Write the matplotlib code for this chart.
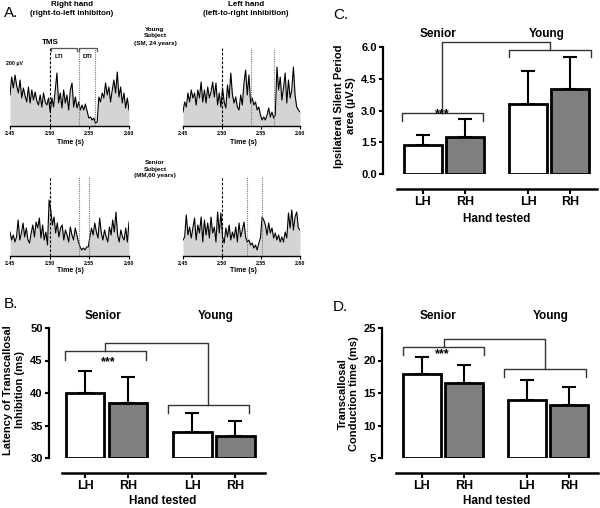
import matplotlib
matplotlib.use('Agg')
import matplotlib.pyplot as plt
import numpy as np

plt.rcParams['font.family'] = ['Liberation Sans', 'DejaVu Sans']
plt.rcParams['font.weight'] = 'bold'

W, H = 600, 508

# ---- panel A: rectified EMG traces (heights) ----
t_start, t_end = 2.45, 2.60
tms_time = 2.50

young_rh = [31, 49, 38, 51, 40, 33, 46, 28, 38, 30, 24, 39, 23, 36, 26, 34, 25, 21,
            31, 19, 33, 24, 21, 28, 14, 28, 19, 36, 53, 23, 33, 18, 36, 23, 31, 16,
            36, 43, 19, 29, 18, 24, 16, 21, 16, 22, 15, 8, 9, 6, 8, 3, 4, 29,
            24, 33, 28, 43, 31, 39, 24, 36, 46, 33, 54, 29, 39, 23, 33, 18, 28, 16]
young_lh = [14, 24, 19, 33, 24, 36, 28, 33, 21, 36, 28, 44, 24, 36, 23, 39, 28, 34,
            44, 29, 43, 21, 33, 19, 38, 24, 18, 41, 28, 53, 31, 23, 29, 19, 16, 31,
            21, 43, 56, 31, 51, 23, 28, 21, 24, 16, 19, 11, 6, 9, 6, 11, 18, 9,
            14, 8, 11, 59, 36, 49, 26, 38, 53, 23, 46, 28, 36, 59, 31, 19, 16, 14]
senior_rh = [24, 16, 21, 14, 19, 36, 16, 23, 33, 19, 28, 16, 13, 23, 31, 19, 34, 28,
             38, 18, 31, 16, 24, 11, 56, 46, 31, 39, 23, 33, 19, 28, 31, 16, 26, 21,
             14, 29, 21, 16, 28, 21, 14, 9, 6, 8, 6, 9, 9, 19, 28, 21, 33, 24,
             18, 38, 23, 16, 26, 19, 14, 29, 21, 36, 24, 44, 21, 14, 26, 19, 16, 28, 14, 34]
senior_lh = [16, 19, 41, 21, 29, 18, 28, 38, 16, 31, 23, 39, 14, 36, 21, 33, 18, 39,
             23, 29, 14, 44, 23, 43, 19, 13, 28, 19, 31, 16, 24, 18, 29, 14, 33, 19,
             26, 34, 19, 14, 16, 11, 13, 8, 11, 6, 13, 18, 39, 36, 31, 21, 33, 23,
             28, 18, 23, 16, 21, 14, 19, 14, 24, 18, 43, 28, 46, 26, 39, 44, 28, 26]

# DTI onset / offset (s)
young_rh_dti = [2.537, 2.557]
young_lh_dti = [2.537, 2.567]
senior_rh_dti = [2.537, 2.550]
senior_lh_dti = [2.532, 2.551]

# ---- panels B-D: group means and SD ----
hands = ['LH', 'RH', 'LH', 'RH']
groups = ['Senior', 'Young']
latency_mean = [40.0, 38.5, 34.0, 33.4]
latency_sd = [3.4, 3.9, 2.9, 2.3]
isp_mean = [1.38, 1.74, 3.30, 4.03]
isp_sd = [0.44, 0.86, 1.58, 1.52]
tct_mean = [18.0, 16.6, 14.0, 13.1]
tct_sd = [2.5, 2.7, 3.0, 2.9]

bar_pos = [0, 1, 2.5, 3.5]
bar_colors = ['white', '#7f7f7f', 'white', '#7f7f7f']


def box(x0, y0, x1, y1):
    return [x0 / W, 1 - y1 / H, (x1 - x0) / W, (y1 - y0) / H]


def ftext(x, y, s, size, **kw):
    kw.setdefault('ha', 'center')
    kw.setdefault('va', 'center')
    fig.text(x / W, 1 - y / H, s, fontsize=size, **kw)


fig = plt.figure(figsize=(6, 5.08), dpi=100)


def trace_panel(rect, vals, dti, top):
    ax = fig.add_axes(box(*rect))
    t = np.linspace(t_start, t_end, len(vals))
    ax.fill_between(t, 0, vals, color='#d4d4d4', lw=0)
    ax.plot(t, vals, color='black', lw=0.8)
    ax.vlines(tms_time, 0, top, colors='black', linestyles=(0, (2.5, 1.5)), lw=0.8)
    ax.vlines(dti, 0, top, colors='#777777', linestyles=(0, (1, 1)), lw=0.8)
    ax.set_xlim(t_start, t_end)
    ax.set_ylim(0, top)
    for s in ['top', 'right', 'left']:
        ax.spines[s].set_visible(False)
    ax.spines['bottom'].set_linewidth(1.0)
    ax.set_yticks([])
    ax.set_xticks([2.45, 2.50, 2.55, 2.60], ['2.45', '2.50', '2.55', '2.60'])
    ax.tick_params(axis='x', length=2, width=0.8, labelsize=3.8, pad=1.5)
    return ax


ax1 = trace_panel((10, 48, 129, 126), young_rh, young_rh_dti, 78)
trace_panel((183, 48, 300, 126), young_lh, young_lh_dti, 78)
trace_panel((10, 177, 129, 256), senior_rh, senior_rh_dti, 79)
trace_panel((183, 177, 300, 256), senior_lh, senior_lh_dti, 79)

# LTI / DTI brackets on the first trace
for x0, x1 in [(2.5017, 2.5350), (2.5370, 2.5597)]:
    ax1.plot([x0, x0, x1, x1], [75, 78.5, 78.5, 75], color='#555555', lw=0.9, clip_on=False)

ftext(4, 13, 'A.', 11, ha='left', fontweight='normal')
ftext(72, 5, 'Right hand', 5.8)
ftext(72, 13.5, '(right-to-left inhibiton)', 5.7)
ftext(246, 5, 'Left hand', 5.8)
ftext(246, 13.5, '(left-to-right inhibition)', 5.7)
ftext(155, 29, 'Young', 4.6)
ftext(155, 36, 'Subject', 4.6)
ftext(155, 43, '(SM, 24 years)', 4.6)
ftext(155, 162, 'Senior', 4.6)
ftext(155, 169, 'Subject', 4.6)
ftext(155, 176, '(MM,60 years)', 4.6)
ftext(15, 64, '200 µV', 3.8)
ftext(50, 43, 'TMS', 5.8)
ftext(59, 57, 'LTI', 4.4)
ftext(87, 57, 'DTI', 4.4)
ftext(70, 143, 'Time (s)', 5)
ftext(243, 143, 'Time (s)', 5)
ftext(70, 271, 'Time (s)', 5)
ftext(243, 271, 'Time (s)', 5)


def bar_panel(rect, mean, sd, ylim, yticks, fmt, xlim, line_from, br, stars):
    ax = fig.add_axes(box(*rect))
    heights = [m - ylim[0] for m in mean]
    ax.errorbar(bar_pos, mean, yerr=[[0] * 4, sd], fmt='none', ecolor='black',
                elinewidth=1.5, capsize=5, capthick=1.5, zorder=1)
    ax.bar(bar_pos, heights, bottom=ylim[0], width=0.9, color=bar_colors,
           edgecolor='black', lw=2, zorder=2)
    ax.set_xlim(*xlim)
    ax.set_ylim(*ylim)
    for s in ['top', 'right']:
        ax.spines[s].set_visible(False)
    ax.spines['left'].set_bounds(*ylim)
    ax.spines['left'].set_linewidth(1.6)
    ax.spines['bottom'].set_position(('outward', 10.5))
    ax.spines['bottom'].set_bounds(line_from, xlim[1])
    ax.spines['bottom'].set_linewidth(1.8)
    ax.set_yticks(yticks, [fmt % v for v in yticks])
    ax.set_xticks(bar_pos, hands)
    ax.tick_params(axis='y', length=3, width=1.5, labelsize=8, pad=1.5)
    ax.tick_params(axis='x', length=3.5, width=1.5, labelsize=9, pad=2)
    # group comparison brackets
    (s0, s1, sy, sd_), (y0, y1, yy, yd), top = br
    kw = dict(color='#333333', lw=1.0, clip_on=False, zorder=3)
    ax.plot([s0, s0, s1, s1], [sd_, sy, sy, sd_], **kw)
    ax.plot([y0, y0, y1, y1], [yd, yy, yy, yd], **kw)
    sm, ym = (s0 + s1) / 2, (y0 + y1) / 2
    ax.plot([sm, sm, ym, ym], [sy, top, top, yy], **kw)
    ax.text(stars[0], stars[1], '***', fontsize=9, ha='center', va='center', zorder=4)
    return ax


# B: latency
bar_panel((49, 328, 265, 458), latency_mean, latency_sd, (30, 50), [30, 35, 40, 45, 50], '%d',
          (-0.84, 4.19), -0.53,
          ((-0.47, 1.42, 46.4, 45.1), (1.93, 3.81, 38.1, 37.0), 47.7), (0.53, 44.8))
# C: ipsilateral silent period
bar_panel((383, 47, 597, 174), isp_mean, isp_sd, (0, 6), [0, 1.5, 3.0, 4.5, 6.0], '%.1f',
          (-0.95, 4.14), -0.62,
          ((-0.50, 1.43, 2.87, 2.50), (2.05, 4.00, 5.85, 5.53), 6.24), (0.45, 2.85))
# D: conduction time
bar_panel((382, 328, 598, 458), tct_mean, tct_sd, (5, 25), [5, 10, 15, 20, 25], '%d',
          (-0.95, 4.19), -0.62,
          ((-0.45, 1.48, 22.1, 20.8), (1.95, 3.90, 18.7, 17.4), 23.3), (0.48, 21.0))

ftext(4, 304, 'B.', 11, ha='left', fontweight='normal')
ftext(333, 15, 'C.', 11, ha='left', fontweight='normal')
ftext(333, 307, 'D.', 11, ha='left', fontweight='normal')

for gx, gy in [((103, 216), 316), ((438, 547), 34), ((438, 551), 316)]:
    ftext(gx[0], gy, groups[0], 8.5)
    ftext(gx[1], gy, groups[1], 8.5)

ftext(163, 501, 'Hand tested', 8.5)
ftext(497, 219, 'Hand tested', 8.5)
ftext(497, 501, 'Hand tested', 8.5)

ftext(14, 390, 'Latency of Transcallosal\nInhibition (ms)', 8, rotation=90, linespacing=1.15)
ftext(345, 106, 'Ipsilateral Silent Period\narea (µV.S)', 8, rotation=90, linespacing=1.15)
ftext(348, 394, 'Transcallosal\nConduction time (ms)', 8, rotation=90, linespacing=1.15)

fig.savefig('out.png', dpi=100, facecolor='white')
